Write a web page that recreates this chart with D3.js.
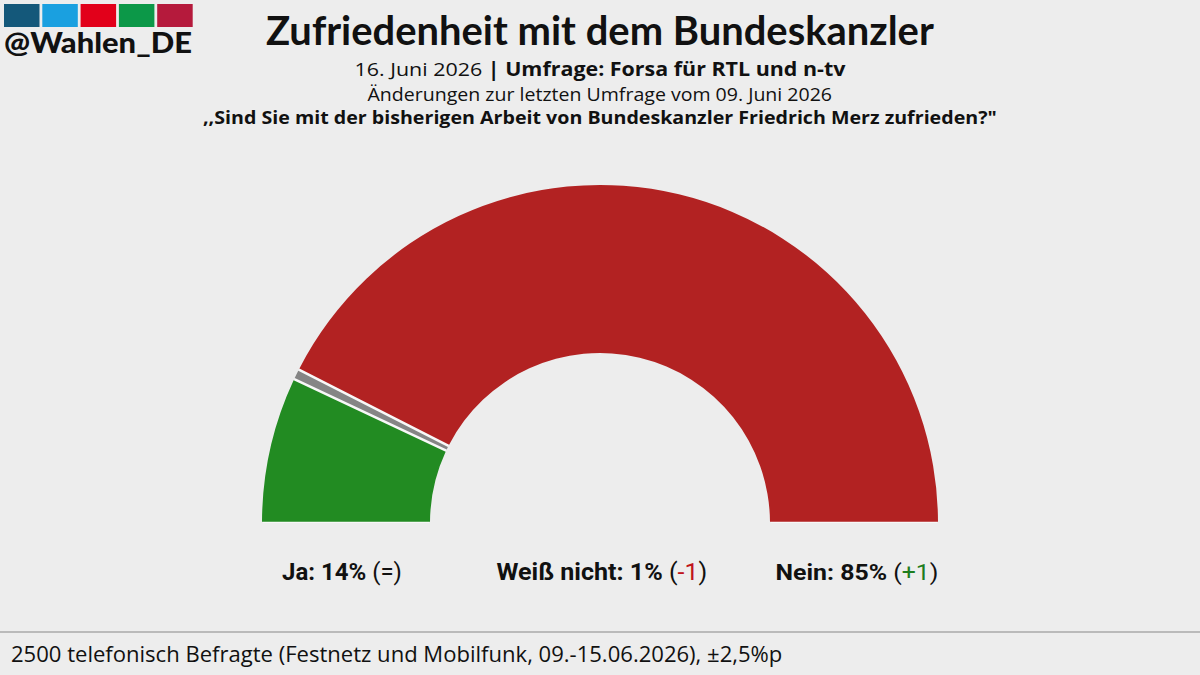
<!DOCTYPE html>
<html><head><meta charset="utf-8">
<script src="https://cdn.jsdelivr.net/npm/d3@7"></script>
<style>
html,body{margin:0;padding:0;background:#ededed;}
svg{display:block;}
</style></head>
<body>
<svg id="c" width="1200" height="675"></svg>
<script>
// ---- data ----
const categories = ["Ja", "Weiß nicht", "Nein"];
const values = [14, 1, 85];
const changes = ["=", "-1", "+1"];
const sliceColors = ["#228b22", "#858585", "#b22222"];
const logoColors = ["#14587a", "#1aa0e0", "#e2001a", "#0c9848", "#b51a3c"];

const W = 1200, H = 675;
const svg = d3.select("#c");
svg.append("rect").attr("width", W).attr("height", H).attr("fill", "#ededed");

function fitX(sel, x, y, target, anchor) {
  const w = sel.node().getComputedTextLength();
  const s = target / w;
  let tx = x;
  if (anchor === "middle") tx = x - target / 2;
  sel.attr("text-anchor", "start").attr("transform", `translate(${tx},${y}) scale(${s},1)`);
}

// ---- logo ----
logoColors.forEach((c, i) => {
  svg.append("rect").attr("x", 4 + i * 38.3).attr("y", 4).attr("width", 35.5).attr("height", 23).attr("fill", c);
});
const logo = svg.append("text").text("@Wahlen_DE")
  .attr("font-family", "Lato").attr("font-weight", 900).attr("font-size", 28).attr("fill", "#111");
fitX(logo, 4, 53, 188);

// ---- titles ----
const title = svg.append("text").text("Zufriedenheit mit dem Bundeskanzler")
  .attr("font-family", "Lato").attr("font-weight", 700).attr("font-size", 40).attr("fill", "#111");
fitX(title, 600, 45, 668, "middle");

const l1 = svg.append("text").attr("font-family", "Open Sans").attr("font-size", 19).attr("fill", "#111");
l1.append("tspan").text("16. Juni 2026 ");
l1.append("tspan").attr("font-weight", 700).text("| Umfrage: Forsa für RTL und n-tv");
fitX(l1, 600, 76, 491, "middle");

const l2 = svg.append("text").attr("font-family", "Open Sans").attr("font-size", 18.5).attr("fill", "#111")
  .text("Änderungen zur letzten Umfrage vom 09. Juni 2026");
fitX(l2, 600, 101, 465, "middle");

const l3 = svg.append("text").attr("font-family", "Open Sans").attr("font-weight", 700).attr("font-size", 18).attr("fill", "#111")
  .text(",,Sind Sie mit der bisherigen Arbeit von Bundeskanzler Friedrich Merz zufrieden?\"");
fitX(l3, 600, 124, 794, "middle");

// ---- half donut ----
const cx = 600, cy = 523, rIn = 170, rOut = 338;
const pie = d3.pie().sort(null).value(d => d.v).startAngle(-Math.PI / 2).endAngle(Math.PI / 2);
const data = categories.map((c, i) => ({ c, v: values[i], col: sliceColors[i], ch: changes[i] }));
const arcs = pie(data);
const g = svg.append("g").attr("transform", `translate(${cx},${cy})`);
// white underlay so the gaps between slices appear white
g.append("path").attr("fill", "#f8f8f8")
  .attr("d", d3.arc().innerRadius(rIn + 0.6).outerRadius(rOut - 0.6)({ startAngle: -Math.PI / 2, endAngle: Math.PI / 2 }));
const arc = d3.arc().innerRadius(rIn).outerRadius(rOut).padRadius(rOut).padAngle(2.6 / rOut);
g.selectAll("path.s").data(arcs).join("path").attr("class", "s")
  .attr("d", arc).attr("fill", d => d.data.col);

// ---- labels ----
const labelX = [cx - (rIn + rOut) / 2 - 4, cx + 2, cx + (rIn + rOut) / 2 + 3];
const labelW = [120, 211, 163];
const chColor = c => c.startsWith("-") ? "#c0141b" : (c.startsWith("+") ? "#1e7d1e" : "#111");
data.forEach((d, i) => {
  const t = svg.append("text").attr("font-family", "Roboto").attr("font-size", 23).attr("fill", "#111");
  t.append("tspan").attr("font-weight", 700).text(`${d.c}: ${d.v}% `);
  t.append("tspan").text("(");
  t.append("tspan").attr("fill", chColor(d.ch)).text(d.ch);
  t.append("tspan").text(")");
  fitX(t, labelX[i], 580, labelW[i], "middle");
});

// ---- footer ----
svg.append("line").attr("x1", 0).attr("x2", W).attr("y1", 632).attr("y2", 632)
  .attr("stroke", "#a8a8a8").attr("stroke-width", 1.6);
const ft = svg.append("text").attr("font-family", "Open Sans").attr("font-size", 21.5).attr("fill", "#111")
  .text("2500 telefonisch Befragte (Festnetz und Mobilfunk, 09.-15.06.2026), ±2,5%p");
fitX(ft, 11, 662, 772);
</script>
</body></html>
